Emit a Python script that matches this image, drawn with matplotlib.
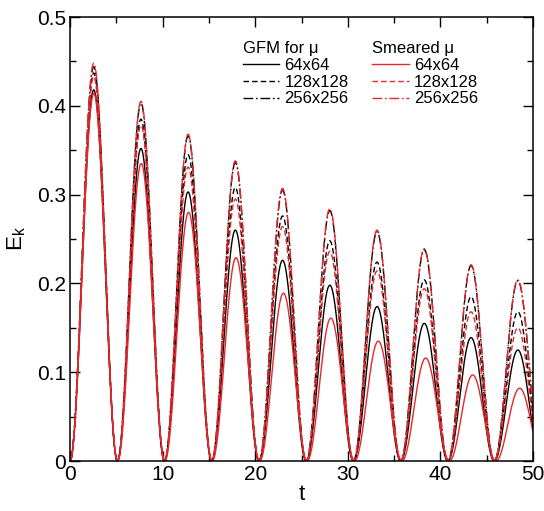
import numpy as np
import matplotlib
matplotlib.use('Agg')
import matplotlib.pyplot as plt
from matplotlib.ticker import MultipleLocator, FuncFormatter

plt.rcParams['font.family'] = ['Liberation Sans', 'DejaVu Sans']

# zero crossings of E_k, one hump between each pair
zeros_t = [0.0, 5.12, 10.2, 15.3, 20.4, 25.5, 30.6, 35.7, 40.8, 45.8, 50.9]

# peak value of each hump, per run
gfm_64 = [0.418, 0.352, 0.303, 0.260, 0.226, 0.198, 0.174, 0.155, 0.139, 0.125]
gfm_128 = [0.437, 0.385, 0.345, 0.308, 0.276, 0.248, 0.224, 0.204, 0.185, 0.168]
gfm_256 = [0.444, 0.403, 0.366, 0.336, 0.305, 0.282, 0.258, 0.238, 0.220, 0.203]
sm_64 = [0.414, 0.335, 0.280, 0.229, 0.189, 0.161, 0.135, 0.116, 0.097, 0.082]
sm_128 = [0.433, 0.378, 0.331, 0.295, 0.264, 0.236, 0.214, 0.194, 0.168, 0.150]
sm_256 = [0.448, 0.405, 0.368, 0.338, 0.307, 0.284, 0.260, 0.239, 0.221, 0.204]

# small phase lag of the coarse smeared run
lag = {'gfm': 1.0, 'sm64': 1.004}

labels = ['64x64', '128x128', '256x256']


def curve(t, peaks, stretch=1.0):
    ts = t / stretch
    y = np.zeros_like(t)
    for i, p in enumerate(peaks):
        a, b = zeros_t[i], zeros_t[i + 1]
        m = (ts >= a) & (ts < b)
        y[m] = p * np.sin(np.pi * (ts[m] - a) / (b - a)) ** 2
    return y


t = np.linspace(0, 50, 3001)

fig = plt.figure(figsize=(5.44, 5.11), dpi=100)
ax = fig.add_axes([0.1287, 0.0978, 0.8513, 0.8689])

red = '#e8262b'
lw = 1.0
dash = (0, (4.0, 2.2))
dashdot = (0, (7.0, 2.0, 1.2, 2.0))

h1 = ax.plot(t, curve(t, gfm_64), color='black', lw=lw, ls='-')[0]
h2 = ax.plot(t, curve(t, gfm_128), color='black', lw=lw, ls=dash)[0]
h3 = ax.plot(t, curve(t, gfm_256), color='black', lw=lw, ls=dashdot)[0]
h4 = ax.plot(t, curve(t, sm_64, lag['sm64']), color=red, lw=lw, ls='-')[0]
h5 = ax.plot(t, curve(t, sm_128), color=red, lw=lw, ls=dash)[0]
h6 = ax.plot(t, curve(t, sm_256), color=red, lw=lw, ls=dashdot)[0]

ax.set_xlim(0, 50)
ax.set_ylim(0, 0.5)
ax.xaxis.set_major_locator(MultipleLocator(10))
ax.xaxis.set_minor_locator(MultipleLocator(5))
ax.yaxis.set_major_locator(MultipleLocator(0.1))
ax.yaxis.set_minor_locator(MultipleLocator(0.05))
ax.yaxis.set_major_formatter(FuncFormatter(lambda v, _: '0' if abs(v) < 1e-9 else '%.1f' % v))

ax.tick_params(which='both', direction='in', top=True, right=True, labelsize=15, width=1.0)
ax.tick_params(which='major', length=7, pad=3)
ax.tick_params(which='minor', length=4.5)
for s in ax.spines.values():
    s.set_linewidth(1.1)

ax.set_xlabel('t', fontsize=16, labelpad=0)
ax.set_ylabel(r'E$_\mathregular{k}$', fontsize=16, labelpad=6)

leg_kw = dict(frameon=False, fontsize=12, handlelength=2.2, handletextpad=0.3,
              labelspacing=0.1, borderpad=0, alignment='left', loc='upper left')
leg1 = ax.legend([h1, h2, h3], labels, title='GFM for μ', bbox_to_anchor=(0.355, 0.964), **leg_kw)
leg1.get_title().set_fontsize(12)
ax.add_artist(leg1)
leg2 = ax.legend([h4, h5, h6], labels, title='Smeared μ', bbox_to_anchor=(0.635, 0.964), **leg_kw)
leg2.get_title().set_fontsize(12)

fig.savefig('out.png', dpi=100)
